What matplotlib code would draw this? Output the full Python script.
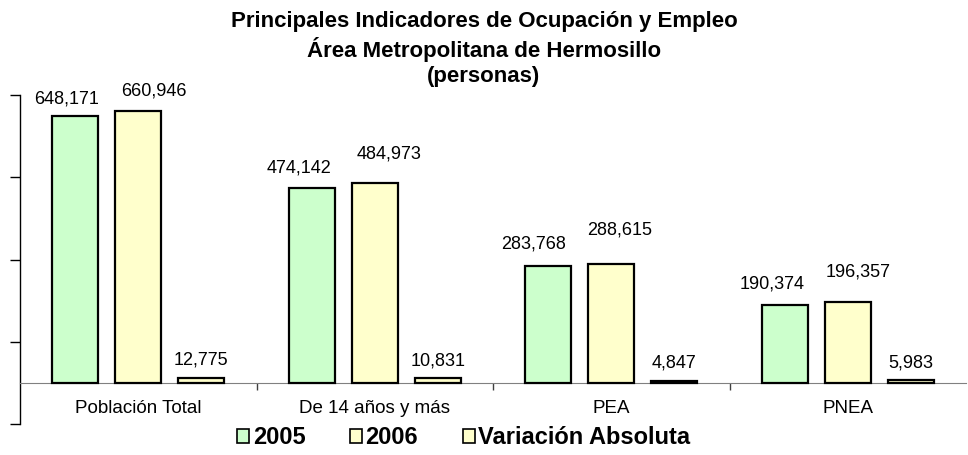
import matplotlib
matplotlib.use("Agg")
import matplotlib.pyplot as plt
from matplotlib.patches import Patch
import numpy as np

plt.rcParams['font.family'] = ['Liberation Sans', 'DejaVu Sans']

categories = ['Población Total', 'De 14 años y más', 'PEA', 'PNEA']
series_names = ['2005', '2006', 'Variación Absoluta']
v2005 = [648171, 474142, 283768, 190374]
v2006 = [660946, 484973, 288615, 196357]
vabs = [12775, 10831, 4847, 5983]

colors = ['#CCFFCC', '#FFFFCC', '#FFFFCC']

# label offsets in pixels (dx, dy above bar top) - labels were nudged in the original
lbl_off = [
    [(-9, 13), (-13, 15), (-15, 18), (-13, 16)],
    [(16, 16), (14, 25), (8, 30), (10, 26)],
    [(0, 13), (0, 13), (0, 13), (0, 13)],
]

fig = plt.figure(figsize=(9.68, 4.55), dpi=100)
ax = fig.add_axes([20 / 968, 31 / 455, 946 / 968, 329 / 455])

x = np.arange(len(categories))
width = 0.195
step = 0.266
for i, (vals, col) in enumerate(zip([v2005, v2006, vabs], colors)):
    pos = x + (i - 1) * step
    ax.bar(pos, vals, width, color=col, edgecolor='black', linewidth=1.6,
           zorder=3, label=series_names[i])
    for j, (px, v) in enumerate(zip(pos, vals)):
        dx, dy = lbl_off[i][j]
        ax.annotate(f'{v:,}', (px, v), xytext=(dx * 0.72, dy * 0.72),
                    textcoords='offset points',
                    ha='center', va='baseline', fontsize=13)

ax.set_xlim(-0.5, 3.5)
ax.set_ylim(-100000, 700000)
ax.set_yticks(np.arange(-100000, 700001, 200000))
ax.set_yticklabels([])
ax.tick_params(axis='y', length=7, width=1, direction='out')

ax.spines['top'].set_visible(False)
ax.spines['right'].set_visible(False)
ax.spines['bottom'].set_position(('data', 0))
ax.spines['bottom'].set_color('#808080')
ax.spines['left'].set_linewidth(1)

ax.set_xticks(x)
ax.set_xticklabels(categories, fontsize=13.5)
ax.set_xticks([0.5, 1.5, 2.5], minor=True)
ax.tick_params(axis='x', which='major', length=0, pad=12)
ax.tick_params(axis='x', which='minor', length=5, width=1, color='#404040', direction='out')

fig.text(0.5, 1 - 11 / 455, 'Principales Indicadores de Ocupación y Empleo\n'
         'Área Metropolitana de Hermosillo\n(personas)',
         ha='center', va='top', fontsize=16, fontweight='bold', linespacing=1.25)

handles = [Patch(facecolor=c, edgecolor='black', linewidth=1.2) for c in colors]
fig.legend(handles, series_names, loc='center', bbox_to_anchor=(464 / 968, 1 - 438 / 455),
           ncol=3, frameon=False, prop={'weight': 'bold', 'size': 17},
           handlelength=0.5, handleheight=0.5, handletextpad=0.15, columnspacing=1.9)

fig.savefig('out.png', dpi=100)
